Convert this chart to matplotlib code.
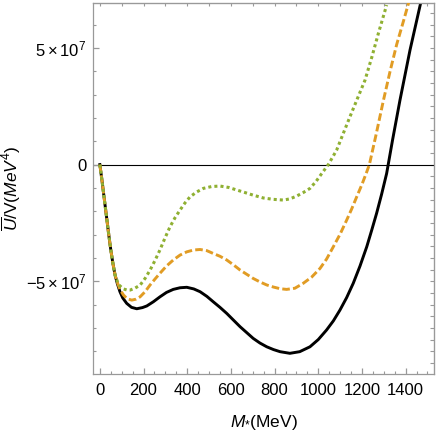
import numpy as np
import matplotlib
matplotlib.use('Agg')
import matplotlib.pyplot as plt

plt.rcParams['font.family'] = ['Liberation Sans', 'DejaVu Sans']
plt.rcParams['mathtext.fontset'] = 'custom'
plt.rcParams['mathtext.rm'] = 'Liberation Sans'
plt.rcParams['mathtext.it'] = 'Liberation Sans:italic'
plt.rcParams['mathtext.bf'] = 'Liberation Sans:bold'

# values (y in units of 1e7 MeV^4)
m_black = [0, 10, 20, 30, 40, 50, 60, 70, 80, 92, 105, 123, 145, 169, 195, 215, 245,
           275, 305, 336, 367, 398, 430, 459, 490, 519, 550, 581, 612, 642, 672, 702,
           733, 764, 795, 825, 870, 915, 962, 1000, 1038, 1069, 1099, 1130, 1160, 1191,
           1222, 1245, 1267, 1290, 1313, 1340, 1374, 1420, 1470]
u_black = [0, -0.7, -1.45, -2.2, -2.95, -3.65, -4.25, -4.75, -5.1, -5.45, -5.72, -5.95,
           -6.12, -6.18, -6.13, -6.06, -5.88, -5.67, -5.48, -5.35, -5.28, -5.26, -5.33,
           -5.45, -5.65, -5.88, -6.12, -6.38, -6.67, -6.95, -7.2, -7.45, -7.65, -7.81,
           -7.93, -8.02, -8.09, -8.02, -7.81, -7.5, -7.09, -6.7, -6.24, -5.7, -5.09,
           -4.35, -3.52, -2.8, -2.09, -1.27, -0.38, 1.05, 2.76, 4.91, 6.98]

m_orange = [0, 10, 20, 30, 40, 50, 60, 70, 80, 92, 108, 125, 146, 165, 184, 207, 230,
            253, 275, 305, 336, 367, 398, 430, 459, 490, 519, 550, 581, 612, 642, 672,
            702, 733, 764, 795, 825, 855, 893, 931, 970, 1008, 1038, 1069, 1100, 1130,
            1153, 1176, 1200, 1222, 1234, 1265, 1297, 1330, 1359, 1390, 1415]
u_orange = [0, -0.7, -1.45, -2.2, -2.95, -3.65, -4.25, -4.75, -5.05, -5.35, -5.59, -5.75,
            -5.81, -5.77, -5.67, -5.45, -5.16, -4.9, -4.66, -4.35, -4.09, -3.88, -3.74,
            -3.66, -3.64, -3.69, -3.81, -3.93, -4.09, -4.3, -4.52, -4.7, -4.88, -5.03,
            -5.16, -5.25, -5.32, -5.35, -5.3, -5.09, -4.82, -4.45, -4.05, -3.52, -2.98,
            -2.38, -1.9, -1.38, -0.85, -0.31, 0, 1.3, 2.7, 4.05, 5.15, 6.15, 6.98]

m_green = [0, 10, 20, 30, 40, 50, 60, 70, 80, 92, 108, 125, 138, 160, 184, 207, 230,
           253, 275, 298, 321, 344, 367, 390, 413, 444, 474, 512, 550, 590, 627, 665,
           702, 748, 794, 840, 870, 901, 931, 962, 990, 1016, 1046, 1084, 1115, 1145,
           1180, 1214, 1245, 1275, 1313]
u_green = [0, -0.7, -1.45, -2.2, -2.95, -3.65, -4.25, -4.75, -5.0, -5.2, -5.33, -5.38,
           -5.38, -5.3, -5.17, -4.88, -4.52, -4.1, -3.66, -3.15, -2.67, -2.28, -1.95,
           -1.64, -1.38, -1.17, -1.02, -0.94, -0.92, -0.98, -1.09, -1.2, -1.31, -1.43,
           -1.49, -1.52, -1.47, -1.35, -1.2, -1.02, -0.72, -0.38, 0, 0.62, 1.35, 2.05,
           2.85, 3.62, 4.6, 5.62, 6.84]

ytick_vals = [-5e7, 0, 5e7]
ytick_labels = [r'$-5\times10^{7}$', '0', r'$5\times10^{7}$']

fig = plt.figure(figsize=(4.36, 4.36), dpi=100)
ax = fig.add_axes([0.214, 0.1415, 0.782, 0.8523])

scale = 1e7
ax.axhline(0, color='black', lw=0.8, zorder=1)
ax.plot(m_black, np.array(u_black) * scale, color='black', lw=2.1, zorder=2)
ax.plot(m_orange, np.array(u_orange) * scale, color='#E19C24', lw=2.1,
        dashes=(2.6, 1.1), zorder=3)
ax.plot(m_green, np.array(u_green) * scale, color='#8FB032', lw=2.2,
        dashes=(1, 1), dash_capstyle='butt', zorder=4)

ax.set_xlim(-30, 1531)
ax.set_ylim(-8.99e7, 6.94e7)

frame_col = '#999999'
for s in ax.spines.values():
    s.set_color(frame_col)
    s.set_linewidth(0.9)

ax.set_xticks(np.arange(0, 1401, 200))
ax.set_xticks(np.arange(0, 1501, 50), minor=True)
ax.set_yticks(ytick_vals, ytick_labels)
ax.set_yticks(np.arange(-8e7, 6.1e7, 1e7), minor=True)
ax.tick_params(which='both', direction='in', color=frame_col, labelsize=12,
               top=False, right=False)
ax.tick_params(which='major', length=4, width=0.9, pad=5)
ax.tick_params(axis='x', which='major', pad=6)
ax.tick_params(which='minor', length=2.2, width=0.8)

# unlabelled ticks on the opposite sides
top = ax.secondary_xaxis('top')
top.set_xticks(np.arange(0, 1501, 100))
top.tick_params(direction='in', length=2.5, width=0.8, color=frame_col, labeltop=False)
top.spines['top'].set_color(frame_col)
right = ax.secondary_yaxis('right')
right.set_yticks(np.arange(-8.5e7, 6.6e7, 5e6))
right.tick_params(direction='in', length=3, width=0.8, color=frame_col, labelright=False)
right.spines['right'].set_color(frame_col)

ax.set_xlabel(r'$M_{*}$(MeV)', fontsize=12.5, labelpad=11)
ax.set_ylabel(r'$\overline{U}/\mathrm{V}(MeV^{4})$', fontsize=12.5, labelpad=2)

fig.savefig('out.png', dpi=100)
